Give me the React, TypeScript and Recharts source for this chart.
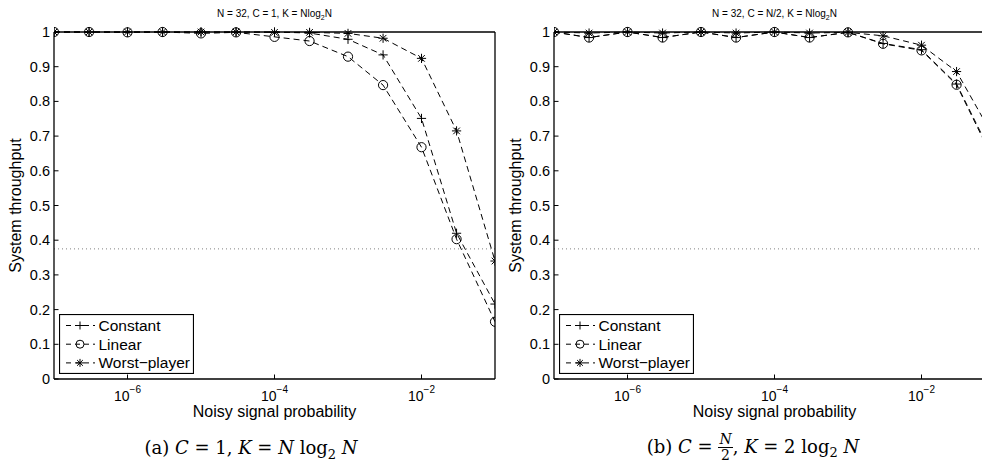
import React from 'react';
import { LineChart, Line, XAxis, YAxis, ReferenceLine, Legend } from 'recharts';

// noisy signal probability (x, log scale)
const noiseProb = [1e-7, 3e-7, 1e-6, 3e-6, 1e-5, 3e-5, 1e-4, 3e-4, 1e-3, 3e-3, 1e-2, 3e-2, 1e-1];

// panel (a): N = 32, C = 1, K = Nlog2N
const constantA = [1, 1, 1, 1, 1, 1, 1, 0.997, 0.979, 0.934, 0.751, 0.42, 0.216];
const linearA = [1, 1, 0.999, 1, 0.996, 0.999, 0.986, 0.974, 0.929, 0.847, 0.668, 0.403, 0.165];
const worstA = [1, 1, 1, 1, 1, 1, 0.999, 0.999, 0.996, 0.982, 0.924, 0.715, 0.34];

// panel (b): N = 32, C = N/2, K = Nlog2N
const constantB = [1, 0.984, 1, 0.984, 1, 0.984, 1, 0.984, 0.999, 0.967, 0.949, 0.85, 0.628];
const linearB = [1, 0.984, 1, 0.984, 1, 0.984, 1, 0.984, 0.999, 0.966, 0.947, 0.848, 0.622];
const worstB = [1, 0.997, 1, 0.997, 1, 0.997, 1, 0.997, 0.999, 0.989, 0.962, 0.886, 0.69];

const thresholdLevel = 0.375;

const xTicks = [1e-6, 1e-4, 1e-2];
const xTickExps = ['\u22126', '\u22124', '\u22122'];
const yTicks = [0, 0.1, 0.2, 0.3, 0.4, 0.5, 0.6, 0.7, 0.8, 0.9, 1];
const yTickLabels = ['0', '0.1', '0.2', '0.3', '0.4', '0.5', '0.6', '0.7', '0.8', '0.9', '1'];

const series = [
    { key: 'constant', name: 'Constant', marker: 'plus' },
    { key: 'linear', name: 'Linear', marker: 'circle' },
    { key: 'worst', name: 'Worst\u2212player', marker: 'star' },
];

const FONT = '"Liberation Sans", Arial, Helvetica, sans-serif';
const SERIF = '"DejaVu Serif", "Liberation Serif", serif';
const TICK = 4.5;
const W = 500;
const H = 468;
// axes are 1px thick boxes, so plot area = 54..495 x 32..379
const MARGIN = { top: 31, right: 4, bottom: 88, left: 53 };

const buildRows = (c: number[], l: number[], w: number[]) =>
    noiseProb.map((p, i) => ({ p, constant: c[i], linear: l[i], worst: w[i] }));

const Marker = ({ cx, cy, kind, r = 4.6 }: { cx?: number; cy?: number; kind: string; r?: number }) => {
    if (cx == null || cy == null) return null;
    const s = { stroke: '#000', strokeWidth: 1, fill: 'none' };
    if (kind === 'circle') return <circle cx={cx} cy={cy} r={r} {...s} />;
    const plus = `M${cx - r},${cy}H${cx + r}M${cx},${cy - r}V${cy + r}`;
    if (kind === 'plus') return <path d={plus} {...s} />;
    const d = r * 0.72;
    return <path d={`${plus}M${cx - d},${cy - d}L${cx + d},${cy + d}M${cx - d},${cy + d}L${cx + d},${cy - d}`} {...s} />;
};

const BottomTick = ({ x, y, payload }: any) => {
    const i = xTicks.indexOf(payload.value);
    return (
        <g>
            <line x1={x} y1={y} x2={x} y2={y - TICK} stroke="#000" />
            <text x={x} y={y + 22} textAnchor="middle" fontSize={14} fontFamily={FONT} fill="#000">
                <tspan>10</tspan>
                <tspan dy={-8} fontSize={10}>{xTickExps[i]}</tspan>
            </text>
        </g>
    );
};

const TopTick = ({ x, y }: any) => <line x1={x} y1={y} x2={x} y2={y + TICK} stroke="#000" />;

const LeftTick = ({ x, y, payload }: any) => {
    const i = yTicks.indexOf(payload.value);
    return (
        <g>
            <line x1={x} y1={y} x2={x + TICK} y2={y} stroke="#000" />
            <text x={x - 4} y={y + 5} textAnchor="end" fontSize={14.5} fontFamily={FONT} fill="#000">
                {yTickLabels[i]}
            </text>
        </g>
    );
};

const RightTick = ({ x, y }: any) => <line x1={x} y1={y} x2={x - TICK} y2={y} stroke="#000" />;

const LegendBox = () => (
    <svg width={135} height={60} style={{ display: 'block' }}>
        <rect x={0.5} y={0.5} width={134} height={59} fill="#fff" stroke="#000" strokeWidth={1.2} />
        {series.map((s, i) => {
            const cy = 11.5 + i * 18.7;
            return (
                <g key={s.key}>
                    <line x1={6} y1={cy} x2={36} y2={cy} stroke="#000" strokeDasharray="5 4" strokeDashoffset={-1} />
                    <Marker cx={21} cy={cy} kind={s.marker} r={4} />
                    <text x={39.5} y={cy + 5.5} fontSize={15.5} fontFamily={FONT} fill="#000">{s.name}</text>
                </g>
            );
        })}
    </svg>
);

const axisStroke = { stroke: '#000', strokeWidth: 1.3 };

interface PanelProps {
    rows: { p: number; constant: number; linear: number; worst: number }[];
    title: React.ReactNode;
    caption: React.ReactNode;
    captionCenter: number;
    captionTop: number;
    left: number;
}

const Panel: React.FC<PanelProps> = ({ rows, title, caption, captionCenter, captionTop, left }) => {
    const plotCenter = 54 + (495 - 54) / 2;
    return (
        <div style={{ position: 'absolute', left, top: 0, width: W, height: H }}>
            <LineChart width={W} height={H} data={rows} margin={MARGIN}>
                <XAxis
                    dataKey="p"
                    type="number"
                    scale="log"
                    domain={[1e-7, 1e-1]}
                    ticks={xTicks}
                    interval={0}
                    height={1}
                    tickSize={0}
                    tickMargin={0}
                    tickLine={false}
                    axisLine={axisStroke}
                    tick={<BottomTick />}
                    allowDataOverflow
                    label={({ viewBox }: any) => (
                        <text x={viewBox.x + viewBox.width / 2} y={viewBox.y + 38} textAnchor="middle" fontSize={16} fontFamily={FONT} fill="#000">
                            Noisy signal probability
                        </text>
                    )}
                />
                <XAxis
                    xAxisId="t"
                    orientation="top"
                    type="number"
                    scale="log"
                    domain={[1e-7, 1e-1]}
                    ticks={xTicks}
                    interval={0}
                    height={1}
                    tickSize={0}
                    tickMargin={0}
                    tickLine={false}
                    axisLine={axisStroke}
                    tick={<TopTick />}
                    allowDataOverflow
                />
                <YAxis
                    type="number"
                    domain={[0, 1]}
                    ticks={yTicks}
                    interval={0}
                    width={1}
                    tickSize={0}
                    tickMargin={0}
                    tickLine={false}
                    axisLine={axisStroke}
                    tick={<LeftTick />}
                    label={({ viewBox }: any) => {
                        const cx = viewBox.x + viewBox.width - 33;
                        const cy = viewBox.y + viewBox.height / 2;
                        return (
                            <text x={cx} y={cy} transform={`rotate(-90, ${cx}, ${cy})`} textAnchor="middle" fontSize={16} fontFamily={FONT} fill="#000">
                                System throughput
                            </text>
                        );
                    }}
                />
                <YAxis
                    yAxisId="r"
                    orientation="right"
                    type="number"
                    domain={[0, 1]}
                    ticks={yTicks}
                    interval={0}
                    width={1}
                    tickSize={0}
                    tickMargin={0}
                    tickLine={false}
                    axisLine={axisStroke}
                    tick={<RightTick />}
                />
                <ReferenceLine y={thresholdLevel} stroke="#808080" strokeDasharray="1 3" />
                {series.map(s => (
                    <Line
                        key={s.key}
                        dataKey={s.key}
                        name={s.name}
                        type="linear"
                        stroke="#000"
                        strokeWidth={1}
                        strokeDasharray="6 4"
                        isAnimationActive={false}
                        dot={(p: any) => <Marker key={`${s.key}-${p.index}`} cx={p.cx} cy={p.cy} kind={s.marker} />}
                        activeDot={false}
                    />
                ))}
                <Legend
                    layout="vertical"
                    align="center"
                    verticalAlign="middle"
                    wrapperStyle={{ left: 59, top: 314, width: 135, height: 60 }}
                    content={() => <LegendBox />}
                />
            </LineChart>
            <div
                style={{
                    position: 'absolute', left: plotCenter - 150, width: 300, top: 8, textAlign: 'center',
                    fontFamily: FONT, fontSize: 10, lineHeight: '12px', color: '#000',
                }}
            >
                {title}
            </div>
            <div
                style={{
                    position: 'absolute', left: captionCenter - 200, width: 400, top: captionTop, textAlign: 'center',
                    fontFamily: SERIF, fontSize: 18, lineHeight: '24px', color: '#000', whiteSpace: 'nowrap',
                }}
            >
                {caption}
            </div>
        </div>
    );
};

const sub = (t: string, size = 7) => <sub style={{ fontSize: size, verticalAlign: 'sub', lineHeight: 0 }}>{t}</sub>;

const App: React.FC = () => (
    <div style={{ position: 'relative', width: 990, height: 468, overflow: 'hidden', margin: -8, background: '#fff' }}>
        <Panel
            left={0}
            rows={buildRows(constantA, linearA, worstA)}
            title={<>N = 32, C = 1, K = Nlog{sub('2')}N</>}
            caption={<>(a) <i>C</i> = 1, <i>K</i> = <i>N</i> log{sub('2', 13)} <i>N</i></>}
            captionCenter={251}
            captionTop={436}
        />
        <Panel
            left={500}
            rows={buildRows(constantB, linearB, worstB)}
            title={<>N = 32, C = N/2, K = Nlog{sub('2')}N</>}
            caption={
                <>
                    (b) <i>C</i> ={' '}
                    <span
                        style={{
                            display: 'inline-flex', flexDirection: 'column', verticalAlign: 'middle',
                            fontSize: 14, lineHeight: '15px', textAlign: 'center',
                        }}
                    >
                        <span style={{ borderBottom: '1px solid #000', padding: '0 1px' }}><i>N</i></span>
                        <span>2</span>
                    </span>
                    , <i>K</i> = 2 log{sub('2', 13)} <i>N</i>
                </>
            }
            captionCenter={253}
            captionTop={432}
        />
    </div>
);

export default App;
